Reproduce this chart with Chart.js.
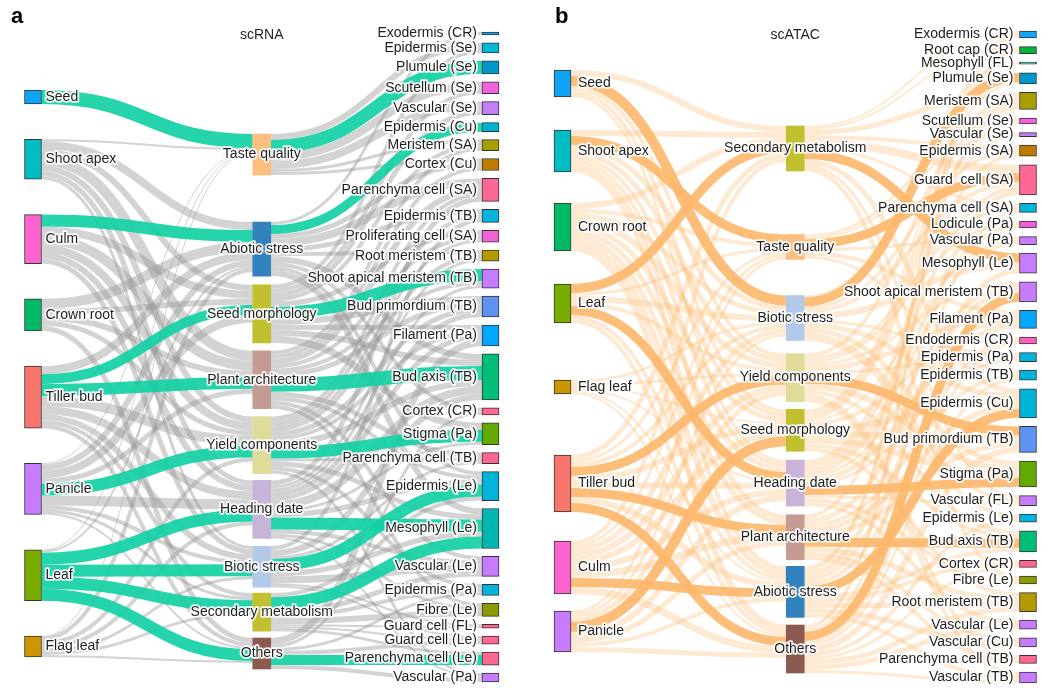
<!DOCTYPE html>
<html><head><meta charset="utf-8">
<script src="https://cdn.jsdelivr.net/npm/chart.js@4.4.1/dist/chart.umd.min.js"></script>
<style>
html,body{margin:0;padding:0;background:#fff;}
#wrap{position:relative;width:1054px;height:699px;overflow:hidden;}
.panel{position:absolute;top:0;width:527px;height:699px;}
</style></head><body>
<div id="wrap">
<div class="panel" style="left:0"><canvas id="cA" width="527" height="699"></canvas></div>
<div class="panel" style="left:527px"><canvas id="cB" width="527" height="699"></canvas></div>
</div>
<script>
// ---------------- DATA: scRNA ----------------
const rnaTissues = ['Seed','Shoot apex','Culm','Crown root','Tiller bud','Panicle','Leaf','Flag leaf'];
const rnaTraits = ['Taste quality','Abiotic stress','Seed morphology','Plant architecture','Yield components','Heading date','Biotic stress','Secondary metabolism','Others'];
const rnaCellTypes = ['Exodermis (CR)','Epidermis (Se)','Plumule (Se)','Scutellum (Se)','Vascular (Se)','Epidermis (Cu)','Meristem (SA)','Cortex (Cu)','Parenchyma cell (SA)','Epidermis (TB)','Proliferating cell (SA)','Root meristem (TB)','Shoot apical meristem (TB)','Bud primordium (TB)','Filament (Pa)','Bud axis (TB)','Cortex (CR)','Stigma (Pa)','Parenchyma cell (TB)','Epidermis (Le)','Mesophyll (Le)','Vascular (Le)','Epidermis (Pa)','Fibre (Le)','Guard cell (FL)','Guard cell (Le)','Parenchyma cell (Le)','Vascular (Pa)'];
// [source, target, value, highlighted]
const rnaTissueTrait = [
 ['Seed','Taste quality',14,1],
 ['Shoot apex','Taste quality',2,0],['Shoot apex','Abiotic stress',8,0],['Shoot apex','Seed morphology',6,0],['Shoot apex','Plant architecture',10,0],['Shoot apex','Yield components',6,0],['Shoot apex','Heading date',5,0],['Shoot apex','Biotic stress',3,0],
 ['Culm','Abiotic stress',12,1],['Culm','Seed morphology',8,0],['Culm','Plant architecture',10,0],['Culm','Yield components',8,0],['Culm','Heading date',6,0],['Culm','Biotic stress',5,0],
 ['Crown root','Abiotic stress',10,0],['Crown root','Seed morphology',6,0],['Crown root','Plant architecture',6,0],['Crown root','Yield components',5,0],['Crown root','Others',5,0],
 ['Tiller bud','Abiotic stress',8,0],['Tiller bud','Seed morphology',10,1],['Tiller bud','Plant architecture',12,1],['Tiller bud','Yield components',10,0],['Tiller bud','Heading date',8,0],['Tiller bud','Biotic stress',6,0],['Tiller bud','Secondary metabolism',4,0],['Tiller bud','Others',4,0],
 ['Panicle','Taste quality',1,0],['Panicle','Abiotic stress',6,0],['Panicle','Seed morphology',8,0],['Panicle','Plant architecture',5,0],['Panicle','Yield components',12,1],['Panicle','Heading date',10,0],['Panicle','Biotic stress',4,0],['Panicle','Secondary metabolism',3,0],['Panicle','Others',2,0],
 ['Leaf','Taste quality',1,0],['Leaf','Abiotic stress',2,0],['Leaf','Heading date',12,1],['Leaf','Biotic stress',12,1],['Leaf','Secondary metabolism',12,1],['Leaf','Others',12,1],
 ['Flag leaf','Taste quality',1,0],['Flag leaf','Abiotic stress',4,0],['Flag leaf','Yield components',4,0],['Flag leaf','Heading date',4,0],['Flag leaf','Biotic stress',3,0],['Flag leaf','Secondary metabolism',3,0],['Flag leaf','Others',2,0]
];
const rnaTraitCell = [
 ['Taste quality','Epidermis (Se)',6,0],['Taste quality','Plumule (Se)',13,1],['Taste quality','Scutellum (Se)',8,0],['Taste quality','Vascular (Se)',8,0],['Taste quality','Meristem (SA)',3,0],['Taste quality','Cortex (Cu)',3,0],
 ['Abiotic stress','Exodermis (CR)',3,0],['Abiotic stress','Epidermis (Cu)',9,1],['Abiotic stress','Cortex (Cu)',5,0],['Abiotic stress','Parenchyma cell (SA)',8,0],['Abiotic stress','Epidermis (TB)',5,0],['Abiotic stress','Root meristem (TB)',4,0],['Abiotic stress','Bud axis (TB)',6,0],['Abiotic stress','Cortex (CR)',4,0],['Abiotic stress','Epidermis (Le)',4,0],['Abiotic stress','Mesophyll (Le)',6,0],
 ['Seed morphology','Epidermis (Se)',4,0],['Seed morphology','Scutellum (Se)',4,0],['Seed morphology','Vascular (Se)',5,0],['Seed morphology','Meristem (SA)',4,0],['Seed morphology','Proliferating cell (SA)',5,0],['Seed morphology','Shoot apical meristem (TB)',12,1],['Seed morphology','Bud primordium (TB)',6,0],['Seed morphology','Filament (Pa)',5,0],['Seed morphology','Bud axis (TB)',6,0],['Seed morphology','Stigma (Pa)',7,0],
 ['Plant architecture','Meristem (SA)',4,0],['Plant architecture','Cortex (Cu)',4,0],['Plant architecture','Parenchyma cell (SA)',6,0],['Plant architecture','Proliferating cell (SA)',4,0],['Plant architecture','Shoot apical meristem (TB)',4,0],['Plant architecture','Bud primordium (TB)',5,0],['Plant architecture','Bud axis (TB)',14,1],['Plant architecture','Parenchyma cell (TB)',5,0],['Plant architecture','Epidermis (Le)',4,0],['Plant architecture','Vascular (Le)',4,0],['Plant architecture','Fibre (Le)',4,0],
 ['Yield components','Parenchyma cell (SA)',4,0],['Yield components','Epidermis (TB)',4,0],['Yield components','Proliferating cell (SA)',3,0],['Yield components','Root meristem (TB)',4,0],['Yield components','Bud primordium (TB)',5,0],['Yield components','Filament (Pa)',4,0],['Yield components','Bud axis (TB)',6,0],['Yield components','Stigma (Pa)',12,1],['Yield components','Parenchyma cell (TB)',3,0],['Yield components','Mesophyll (Le)',5,0],['Yield components','Epidermis (Pa)',4,0],['Yield components','Vascular (Pa)',3,0],
 ['Heading date','Parenchyma cell (SA)',5,0],['Heading date','Root meristem (TB)',3,0],['Heading date','Shoot apical meristem (TB)',3,0],['Heading date','Bud primordium (TB)',5,0],['Heading date','Filament (Pa)',5,0],['Heading date','Bud axis (TB)',8,0],['Heading date','Stigma (Pa)',3,0],['Heading date','Epidermis (Le)',5,0],['Heading date','Mesophyll (Le)',12,1],['Heading date','Vascular (Le)',4,0],['Heading date','Fibre (Le)',3,0],['Heading date','Vascular (Pa)',2,0],
 ['Biotic stress','Epidermis (TB)',4,0],['Biotic stress','Bud axis (TB)',6,0],['Biotic stress','Parenchyma cell (TB)',3,0],['Biotic stress','Epidermis (Le)',12,1],['Biotic stress','Mesophyll (Le)',5,0],['Biotic stress','Vascular (Le)',7,0],['Biotic stress','Guard cell (FL)',2,0],['Biotic stress','Guard cell (Le)',2,0],
 ['Secondary metabolism','Epidermis (Le)',4,0],['Secondary metabolism','Mesophyll (Le)',12,1],['Secondary metabolism','Vascular (Le)',5,0],['Secondary metabolism','Epidermis (Pa)',4,0],['Secondary metabolism','Fibre (Le)',6,0],['Secondary metabolism','Guard cell (FL)',2,0],['Secondary metabolism','Guard cell (Le)',2,0],['Secondary metabolism','Parenchyma cell (Le)',3,0],
 ['Others','Filament (Pa)',7,0],['Others','Cortex (CR)',3,0],['Others','Epidermis (Pa)',3,0],['Others','Guard cell (Le)',4,0],['Others','Parenchyma cell (Le)',10,1],['Others','Vascular (Pa)',4,0]
];

// ---------------- DATA: scATAC ----------------
const atacTissues = ['Seed','Shoot apex','Crown root','Leaf','Flag leaf','Tiller bud','Culm','Panicle'];
const atacTraits = ['Secondary metabolism','Taste quality','Biotic stress','Yield components','Seed morphology','Heading date','Plant architecture','Abiotic stress','Others'];
const atacCellTypes = ['Exodermis (CR)','Root cap (CR)','Mesophyll (FL)','Plumule (Se)','Meristem (SA)','Scutellum (Se)','Vascular (Se)','Epidermis (SA)','Guard  cell (SA)','Parenchyma cell (SA)','Lodicule (Pa)','Vascular (Pa)','Mesophyll (Le)','Shoot apical meristem (TB)','Filament (Pa)','Endodermis (CR)','Epidermis (Pa)','Epidermis (TB)','Epidermis (Cu)','Bud primordium (TB)','Stigma (Pa)','Vascular (FL)','Epidermis (Le)','Bud axis (TB)','Cortex (CR)','Fibre (Le)','Root meristem (TB)','Vascular (Le)','Vascular (Cu)','Parenchyma cell (TB)','Vascular (TB)'];
const atacTissueTrait = [
 ['Seed','Secondary metabolism',6,0],['Seed','Biotic stress',10,1],['Seed','Yield components',4,0],['Seed','Seed morphology',4,0],['Seed','Heading date',3,0],
 ['Shoot apex','Secondary metabolism',6,0],['Shoot apex','Taste quality',9,1],['Shoot apex','Biotic stress',5,0],['Shoot apex','Yield components',5,0],['Shoot apex','Seed morphology',4,0],['Shoot apex','Heading date',4,0],['Shoot apex','Plant architecture',5,0],['Shoot apex','Abiotic stress',4,0],
 ['Crown root','Secondary metabolism',6,0],['Crown root','Taste quality',4,0],['Crown root','Biotic stress',5,0],['Crown root','Yield components',6,0],['Crown root','Seed morphology',5,0],['Crown root','Heading date',5,0],['Crown root','Plant architecture',5,0],['Crown root','Abiotic stress',6,0],['Crown root','Others',6,0],
 ['Leaf','Secondary metabolism',9,1],['Leaf','Taste quality',3,0],['Leaf','Biotic stress',6,0],['Leaf','Yield components',4,0],['Leaf','Heading date',9,1],['Leaf','Abiotic stress',4,0],['Leaf','Others',4,0],
 ['Flag leaf','Biotic stress',3,0],['Flag leaf','Yield components',3,0],['Flag leaf','Seed morphology',2,0],['Flag leaf','Heading date',2,0],['Flag leaf','Abiotic stress',2,0],['Flag leaf','Others',2,0],
 ['Tiller bud','Secondary metabolism',5,0],['Tiller bud','Taste quality',3,0],['Tiller bud','Biotic stress',4,0],['Tiller bud','Yield components',9,1],['Tiller bud','Seed morphology',6,0],['Tiller bud','Heading date',6,0],['Tiller bud','Plant architecture',9,1],['Tiller bud','Abiotic stress',6,0],['Tiller bud','Others',9,1],
 ['Culm','Secondary metabolism',4,0],['Culm','Taste quality',3,0],['Culm','Biotic stress',5,0],['Culm','Yield components',6,0],['Culm','Seed morphology',6,0],['Culm','Heading date',6,0],['Culm','Plant architecture',7,0],['Culm','Abiotic stress',9,1],['Culm','Others',7,0],
 ['Panicle','Taste quality',3,0],['Panicle','Biotic stress',3,0],['Panicle','Yield components',5,0],['Panicle','Seed morphology',10,1],['Panicle','Heading date',6,0],['Panicle','Plant architecture',5,0],['Panicle','Abiotic stress',4,0],['Panicle','Others',5,0]
];
const atacTraitCell = [
 ['Secondary metabolism','Exodermis (CR)',2,0],['Secondary metabolism','Root cap (CR)',2,0],['Secondary metabolism','Meristem (SA)',5,0],['Secondary metabolism','Epidermis (SA)',4,0],['Secondary metabolism','Guard  cell (SA)',8,0],['Secondary metabolism','Parenchyma cell (SA)',3,0],['Secondary metabolism','Mesophyll (Le)',9,1],['Secondary metabolism','Epidermis (Cu)',5,0],['Secondary metabolism','Vascular (FL)',3,0],['Secondary metabolism','Fibre (Le)',4,0],
 ['Taste quality','Scutellum (Se)',3,0],['Taste quality','Vascular (Se)',2,0],['Taste quality','Guard  cell (SA)',9,1],['Taste quality','Vascular (Pa)',3,0],['Taste quality','Filament (Pa)',4,0],['Taste quality','Epidermis (TB)',3,0],
 ['Biotic stress','Mesophyll (FL)',2,0],['Biotic stress','Plumule (Se)',9,1],['Biotic stress','Epidermis (SA)',3,0],['Biotic stress','Guard  cell (SA)',4,0],['Biotic stress','Mesophyll (Le)',6,0],['Biotic stress','Epidermis (Pa)',3,0],['Biotic stress','Epidermis (Cu)',5,0],['Biotic stress','Stigma (Pa)',5,0],['Biotic stress','Vascular (FL)',4,0],['Biotic stress','Epidermis (Le)',4,0],
 ['Yield components','Meristem (SA)',4,0],['Yield components','Parenchyma cell (SA)',3,0],['Yield components','Lodicule (Pa)',3,0],['Yield components','Shoot apical meristem (TB)',3,0],['Yield components','Filament (Pa)',5,0],['Yield components','Epidermis (Pa)',3,0],['Yield components','Bud primordium (TB)',9,1],['Yield components','Stigma (Pa)',6,0],['Yield components','Bud axis (TB)',4,0],['Yield components','Parenchyma cell (TB)',4,0],['Yield components','Vascular (TB)',4,0],
 ['Seed morphology','Plumule (Se)',2,0],['Seed morphology','Meristem (SA)',4,0],['Seed morphology','Scutellum (Se)',3,0],['Seed morphology','Vascular (Se)',2,0],['Seed morphology','Vascular (Pa)',2,0],['Seed morphology','Filament (Pa)',4,0],['Seed morphology','Epidermis (Cu)',5,0],['Seed morphology','Bud primordium (TB)',6,0],['Seed morphology','Stigma (Pa)',6,0],['Seed morphology','Bud axis (TB)',4,0],['Seed morphology','Root meristem (TB)',4,0],
 ['Heading date','Epidermis (SA)',4,0],['Heading date','Guard  cell (SA)',4,0],['Heading date','Lodicule (Pa)',4,0],['Heading date','Vascular (Pa)',3,0],['Heading date','Shoot apical meristem (TB)',3,0],['Heading date','Filament (Pa)',5,0],['Heading date','Epidermis (Pa)',3,0],['Heading date','Stigma (Pa)',9,1],['Heading date','Vascular (FL)',3,0],['Heading date','Fibre (Le)',4,0],['Heading date','Vascular (Le)',4,0],
 ['Plant architecture','Meristem (SA)',4,0],['Plant architecture','Shoot apical meristem (TB)',5,0],['Plant architecture','Epidermis (TB)',4,0],['Plant architecture','Epidermis (Cu)',5,0],['Plant architecture','Bud primordium (TB)',5,0],['Plant architecture','Bud axis (TB)',9,1],['Plant architecture','Root meristem (TB)',5,0],['Plant architecture','Vascular (Cu)',4,0],['Plant architecture','Parenchyma cell (TB)',4,0],
 ['Abiotic stress','Exodermis (CR)',3,0],['Abiotic stress','Root cap (CR)',3,0],['Abiotic stress','Guard  cell (SA)',5,0],['Abiotic stress','Mesophyll (Le)',5,0],['Abiotic stress','Endodermis (CR)',4,0],['Abiotic stress','Epidermis (Cu)',9,1],['Abiotic stress','Bud axis (TB)',4,0],['Abiotic stress','Cortex (CR)',4,0],['Abiotic stress','Root meristem (TB)',5,0],['Abiotic stress','Vascular (Cu)',5,0],['Abiotic stress','Vascular (TB)',4,0],
 ['Others','Exodermis (CR)',2,0],['Others','Root cap (CR)',2,0],['Others','Parenchyma cell (SA)',3,0],['Others','Shoot apical meristem (TB)',9,1],['Others','Endodermis (CR)',3,0],['Others','Epidermis (TB)',3,0],['Others','Bud primordium (TB)',6,0],['Others','Epidermis (Le)',4,0],['Others','Cortex (CR)',3,0],['Others','Root meristem (TB)',5,0],['Others','Vascular (Le)',5,0],['Others','Vascular (TB)',3,0]
];

// ---------------- STYLES ----------------
const traitColors = {'Taste quality':'#fdbf80','Abiotic stress':'#3182bd','Seed morphology':'#c2c031','Plant architecture':'#c49c94','Yield components':'#dedc98','Heading date':'#c8b4d8','Biotic stress':'#b3c9ea','Secondary metabolism':'#c2c031','Others':'#8c5a50'};
const tissueColors = {'Seed':'#0fa3f5','Shoot apex':'#00bcc4','Culm':'#ff63cf','Crown root':'#00ba68','Tiller bud':'#f8766d','Panicle':'#c77cff','Leaf':'#78ad00','Flag leaf':'#cc9600'};
const cellColors = {
 'Exodermis (CR)':'#12a6f8','Epidermis (Se)':'#00b8d8','Plumule (Se)':'#0098c8','Scutellum (Se)':'#f462e0','Vascular (Se)':'#c67ef8','Epidermis (Cu)':'#00b4d8','Meristem (SA)':'#a69f00','Cortex (Cu)':'#c07a00','Parenchyma cell (SA)':'#00b4dc','Parenchyma cell (SA)_rna':'#ff6794','Epidermis (TB)':'#00b4dc','Proliferating cell (SA)':'#f062d8','Root meristem (TB)':'#b49a00','Shoot apical meristem (TB)':'#c77cff','Bud primordium (TB)':'#5f93f2','Filament (Pa)':'#00a9ff','Bud axis (TB)':'#00bd78','Cortex (CR)':'#ff6790','Stigma (Pa)':'#62aa00','Parenchyma cell (TB)':'#ff6790','Epidermis (Le)':'#00b4dc','Mesophyll (Le)':'#c77cff','Mesophyll (Le)_rna':'#00b7b4','Vascular (Le)':'#c77cff','Epidermis (Pa)':'#00b4dc','Fibre (Le)':'#8c9a00','Guard cell (FL)':'#ff6790','Guard cell (Le)':'#ff6790','Parenchyma cell (Le)':'#ff6790','Vascular (Pa)':'#c77cff','Root cap (CR)':'#00b43c','Mesophyll (FL)':'#00bcb0','Epidermis (SA)':'#bf7800','Guard  cell (SA)':'#ff6794','Lodicule (Pa)':'#f05ed8','Endodermis (CR)':'#ff5fc0','Vascular (FL)':'#c77cff','Vascular (Cu)':'#c77cff','Vascular (TB)':'#c77cff'
};

// ---------------- SANKEY LAYOUT ----------------
function buildSankey(cols, linkSets, layout, colorFor) {
  const nodes = [];
  cols.forEach((names, c) => names.forEach((n, i) => nodes.push({name:n, col:c, idx:i, inV:0, outV:0, src:[], tgt:[], color:colorFor(c, n)})));
  const find = (c, n) => nodes.find(d => d.col === c && d.name === n);
  const links = [];
  linkSets.forEach((set, c) => set.forEach(([s, t, v, h]) => {
    const S = find(c, s), T = find(c + 1, t);
    const l = {source:S, target:T, value:v, hl:!!h};
    S.src.push(l); T.tgt.push(l); S.outV += v; T.inV += v; links.push(l);
  }));
  nodes.forEach(n => n.value = Math.max(n.inV, n.outV));
  layout.forEach((spec, c) => {
    const col = nodes.filter(n => n.col === c);
    const total = col.reduce((a, n) => a + n.value, 0);
    const w = spec.gaps || col.slice(1).map(() => 1);
    const wsum = w.reduce((a, b) => a + b, 0);
    const free = spec.bottom - spec.top - total;
    let y = spec.top;
    col.forEach((n, i) => { if (i > 0) y += free * w[i - 1] / wsum; n.y0 = y; n.y1 = y + n.value; y = n.y1; });
  });
  nodes.forEach(n => {
    n.src.sort((a, b) => a.target.y0 - b.target.y0);
    n.tgt.sort((a, b) => a.source.y0 - b.source.y0);
    let y = n.y0; n.src.forEach(l => { l.sy = y; y += l.value; });
    y = n.y0; n.tgt.forEach(l => { l.ty = y; y += l.value; });
  });
  return {nodes, links};
}

const FONT = '"Liberation Sans", Arial, Helvetica, sans-serif';

const linkPlugin = {
  id: 'sankeyLinks',
  beforeDatasetsDraw(chart, args, o) {
    const {ctx, scales:{x, y}} = chart;
    const sk = o.sankey;
    const order = sk.links.filter(l => !l.hl).concat(sk.links.filter(l => l.hl));
    ctx.save();
    ctx.lineCap = 'butt';
    order.forEach(l => {
      const h0 = l.source.col === 1 ? o.midHalf : o.outerHalf;
      const h1 = l.target.col === 1 ? o.midHalf : o.outerHalf;
      const x0 = x.getPixelForValue(l.source.col) + h0;
      const x1 = x.getPixelForValue(l.target.col) - h1;
      const ya = y.getPixelForValue(l.sy + l.value / 2);
      const yb = y.getPixelForValue(l.ty + l.value / 2);
      const w = Math.abs(y.getPixelForValue(l.value) - y.getPixelForValue(0));
      const xm = (x0 + x1) / 2;
      ctx.beginPath();
      ctx.moveTo(x0, ya);
      ctx.bezierCurveTo(xm, ya, xm, yb, x1, yb);
      ctx.strokeStyle = l.hl ? o.hlColor : o.color;
      ctx.lineWidth = w;
      ctx.stroke();
    });
    ctx.restore();
  }
};

const labelPlugin = {
  id: 'sankeyLabels',
  afterDatasetsDraw(chart, args, o) {
    const {ctx, scales:{x, y}} = chart;
    ctx.save();
    ctx.font = '14px ' + FONT;
    ctx.textBaseline = 'middle';
    ctx.lineJoin = 'round';
    const draw = (t, px, py, align) => {
      ctx.textAlign = align;
      ctx.strokeStyle = 'rgba(255,255,255,0.6)';
      ctx.lineWidth = 4;
      ctx.strokeText(t, px, py);
      ctx.strokeStyle = 'rgba(255,255,255,0.9)';
      ctx.lineWidth = 2.5;
      ctx.strokeText(t, px, py);
      ctx.fillStyle = '#1e1e1e';
      ctx.fillText(t, px, py);
    };
    o.sankey.nodes.forEach(n => {
      const py = y.getPixelForValue((n.y0 + n.y1) / 2);
      const cx = x.getPixelForValue(n.col);
      if (n.col === 0) draw(n.name, cx + o.outerHalf + o.leftGap, py, 'left');
      else if (n.col === 2) draw(n.name, cx - o.outerHalf - o.rightGap, py, 'right');
      else draw(n.name, cx, py, 'center');
    });
    ctx.textAlign = 'center';
    ctx.fillStyle = '#1e1e1e';
    ctx.fillText(o.title, x.getPixelForValue(1), 35);
    ctx.font = 'bold 22px ' + FONT;
    ctx.textAlign = 'left';
    ctx.textBaseline = 'alphabetic';
    ctx.fillStyle = '#000';
    ctx.fillText(o.letter, o.letterX, 23);
    ctx.restore();
  }
};

function makeChart(id, sk, cfg) {
  const outer = sk.nodes.filter(n => n.col !== 1);
  const mid = sk.nodes.filter(n => n.col === 1);
  return new Chart(document.getElementById(id), {
    type: 'bar',
    data: {
      datasets: [
        {label: 'tissues / cell types', data: outer.map(n => ({x: n.col, y: [n.y0, n.y1]})),
         backgroundColor: outer.map(n => n.color), borderColor: '#333', borderWidth: 1, borderSkipped: false,
         barThickness: 17, grouped: false, clip: false},
        {label: 'traits', data: mid.map(n => ({x: n.col, y: [n.y0, n.y1]})),
         backgroundColor: mid.map(n => n.color), borderWidth: 0, borderSkipped: false,
         barThickness: 18, grouped: false, clip: false}
      ]
    },
    options: {
      responsive: false, animation: false, events: [],
      layout: {padding: {left: cfg.padL, right: cfg.padR, top: 30, bottom: 13}},
      scales: {
        x: {type: 'linear', min: 0, max: 2, display: false, offset: false},
        y: {type: 'linear', min: 0, max: 656, reverse: true, display: false}
      },
      plugins: {
        legend: {display: false}, tooltip: {enabled: false},
        sankeyLinks: {sankey: sk, color: cfg.color, hlColor: cfg.hlColor, outerHalf: 8.5, midHalf: 9},
        sankeyLabels: {sankey: sk, outerHalf: 8.5, leftGap: cfg.leftGap, rightGap: cfg.rightGap, title: cfg.title, letter: cfg.letter, letterX: cfg.letterX}
      }
    },
    plugins: [linkPlugin, labelPlugin]
  });
}

const rnaSankey = buildSankey([rnaTissues, rnaTraits, rnaCellTypes], [rnaTissueTrait, rnaTraitCell],
  [{top: 60, bottom: 627}, {top: 104, bottom: 639, gaps: [48, 9, 8, 8, 7, 8, 6, 7]}, {top: 2, bottom: 652}],
  (c, n) => c === 0 ? tissueColors[n] : c === 1 ? traitColors[n] : (cellColors[n + '_rna'] || cellColors[n]));
const atacSankey = buildSankey([atacTissues, atacTraits, atacCellTypes], [atacTissueTrait, atacTraitCell],
  [{top: 40, bottom: 622, gaps: [33, 31, 33, 57, 61, 29, 17]}, {top: 96, bottom: 643, gaps: [58, 33, 12, 7, 8, 8, 6, 7]}, {top: 1, bottom: 653}],
  (c, n) => c === 0 ? tissueColors[n] : c === 1 ? traitColors[n] : cellColors[n]);

makeChart('cA', rnaSankey, {padL: 33, padR: 36.5, color: 'rgba(150,150,150,0.42)', hlColor: 'rgba(20,208,164,0.92)', leftGap: 4, rightGap: 5, title: 'scRNA', letter: 'a', letterX: 11});
makeChart('cB', atacSankey, {padL: 35.5, padR: 26, color: 'rgba(253,185,110,0.3)', hlColor: 'rgba(253,185,110,0.92)', leftGap: 7, rightGap: 6, title: 'scATAC', letter: 'b', letterX: 28});
</script>
</body></html>
